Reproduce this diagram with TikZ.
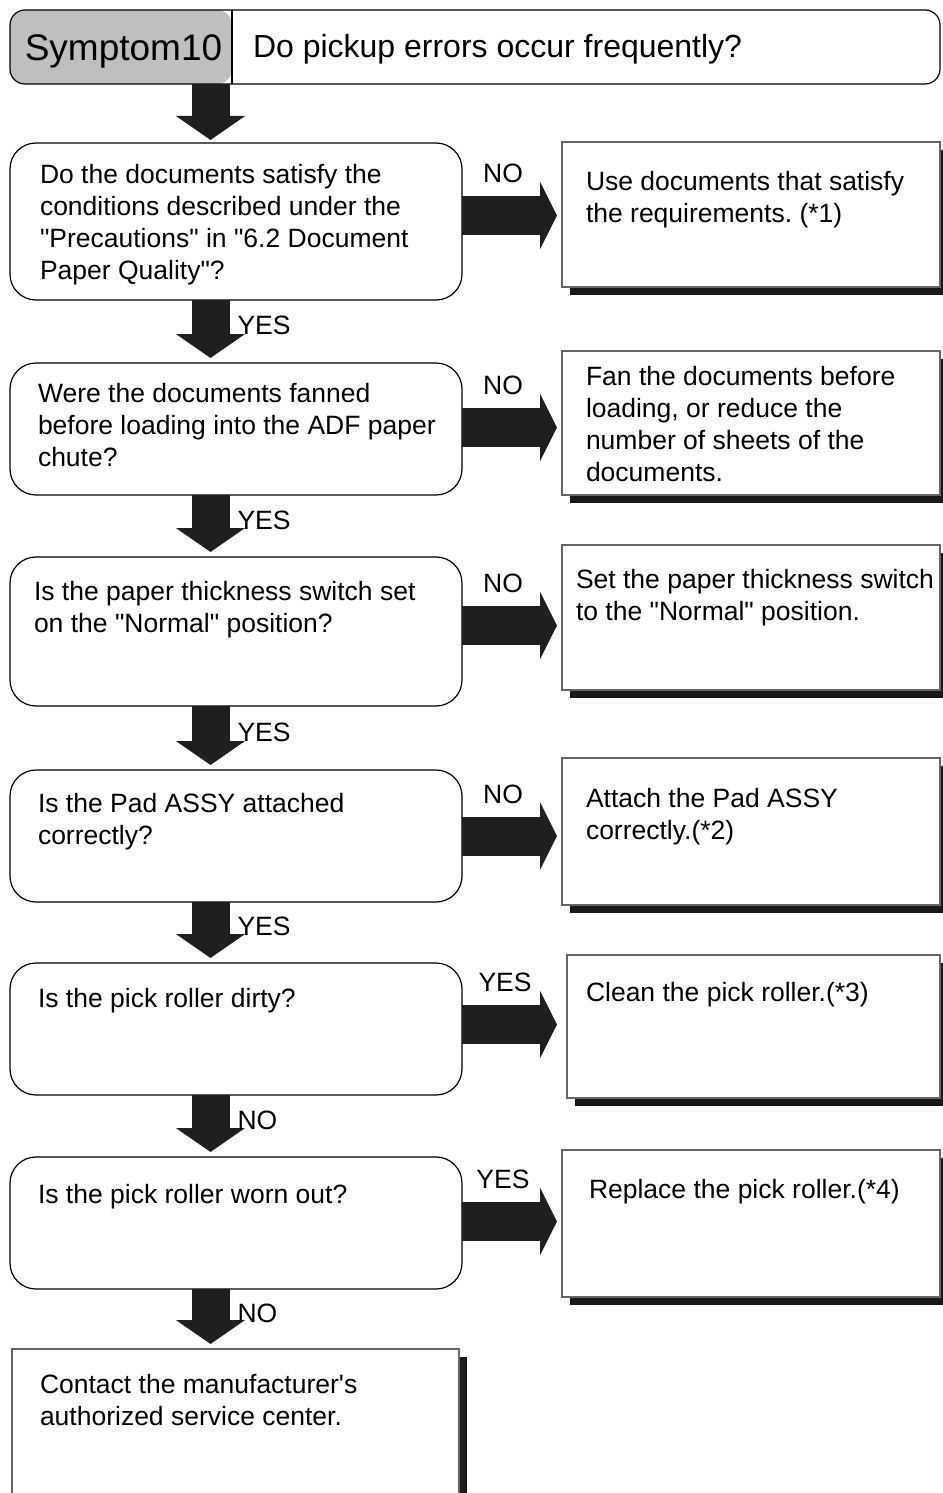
\documentclass[tikz,border=0pt]{standalone}
\usepackage{fontspec}
\setmainfont{Liberation Sans}
\usepackage{tikz}
\usetikzlibrary{positioning, arrows.meta, shadows, calc}

\newcommand\flowfont{\fontsize{26.5}{32}\selectfont}
\frenchspacing

\begin{document}
\begin{tikzpicture}[
    x=1pt, y=-1pt,
    every node/.style={inner sep=0pt, outer sep=0pt, font=\flowfont},
    ask/.style={draw, line width=1.2pt, rounded corners=26pt,
                minimum width=452pt, anchor=north west},
    fix/.style={draw=black!60, line width=1.1pt, fill=white, anchor=north west,
                drop shadow={shadow xshift=8pt, shadow yshift=-8pt,
                             fill=black!90, opacity=1}},
    txt/.style={anchor=north west, align=left},
    godown/.style={line width=38pt, draw=black!88, shorten >=5pt,
                   -{Triangle[length=24pt, width=68pt]}},
    goside/.style={line width=39pt, draw=black!88, shorten >=5pt,
                   -{Triangle[length=17pt, width=67pt]}},
    yes/.style={anchor=west, xshift=27pt, yshift=6pt},
    tag/.style={pos=0.41, yshift=42pt},
]
\useasboundingbox (0,0) rectangle (942,1493);
\coordinate (dx) at (210.5,0);

% header
\node[draw, line width=1.2pt, rounded corners=15pt, minimum width=930pt,
      minimum height=74pt, anchor=north west,
      path picture={\fill[gray!50] (path picture bounding box.north west)
        rectangle ([xshift=222pt]path picture bounding box.south west);}]
      (hdr) at (10,10) {};
\draw[line width=1.2pt] ([xshift=222pt]hdr.north west) -- ([xshift=222pt]hdr.south west);
\node[anchor=base, font=\fontsize{37}{40}\selectfont] (sym) at (123.5,61) {Symptom10};
\node[anchor=base west, font=\fontsize{32}{36}\selectfont] (what) at (253,57.5)
      {Do pickup errors occur frequently?};

% questions
\node[ask, minimum height=157pt] (q1) at (10,143) {};
\node[ask, minimum height=132pt] (q2) at (10,363) {};
\node[ask, minimum height=149pt] (q3) at (10,557) {};
\node[ask, minimum height=132pt] (q4) at (10,770) {};
\node[ask, minimum height=132pt] (q5) at (10,963) {};
\node[ask, minimum height=132pt] (q6) at (10,1157) {};

\node[txt] (q1t) at ([xshift=30pt, yshift=-21.5pt]q1.north west)
      {Do the documents satisfy the\\conditions described under the\\
       \textquotedbl Precautions\textquotedbl{} in \textquotedbl 6.2 Document\\
       Paper Quality\textquotedbl?};
\node[txt] (q2t) at ([xshift=28pt, yshift=-20.5pt]q2.north west)
      {Were the documents fanned\\before loading into the ADF paper\\chute?};
\node[txt] (q3t) at ([xshift=24pt, yshift=-24.5pt]q3.north west)
      {Is the paper thickness switch set\\on the \textquotedbl Normal\textquotedbl{} position?};
\node[txt] (q4t) at ([xshift=28pt, yshift=-23.5pt]q4.north west)
      {Is the Pad ASSY attached\\correctly?};
\node[txt] (q5t) at ([xshift=28pt, yshift=-25.5pt]q5.north west)
      {Is the pick roller dirty?};
\node[txt] (q6t) at ([xshift=28pt, yshift=-27.5pt]q6.north west)
      {Is the pick roller worn out?};

% remedies
\node[fix, minimum width=378pt, minimum height=145pt] (r1) at (562,142) {};
\node[fix, minimum width=378pt, minimum height=144pt] (r2) at (562,351) {};
\node[fix, minimum width=378pt, minimum height=145pt] (r3) at (562,545) {};
\node[fix, minimum width=378pt, minimum height=147pt] (r4) at (562,758) {};
\node[fix, minimum width=373pt, minimum height=143pt] (r5) at (567,955) {};
\node[fix, minimum width=378pt, minimum height=147pt] (r6) at (562,1150) {};
\node[fix, minimum width=447pt, minimum height=150pt] (fin) at (12,1349) {};

\node[txt] (r1t) at ([xshift=24pt, yshift=-29.5pt]r1.north west)
      {Use documents that satisfy\\the requirements. (*1)};
\node[txt] (r2t) at ([xshift=24pt, yshift=-15.5pt]r2.north west)
      {Fan the documents before\\loading, or reduce the\\number of sheets of the\\documents.};
\node[txt] (r3t) at ([xshift=14pt, yshift=-24.5pt]r3.north west)
      {Set the paper thickness switch\\to the \textquotedbl Normal\textquotedbl{} position.};
\node[txt] (r4t) at ([xshift=24pt, yshift=-30.5pt]r4.north west)
      {Attach the Pad ASSY\\correctly.(*2)};
\node[txt] (r5t) at ([xshift=19pt, yshift=-27.5pt]r5.north west)
      {Clean the pick roller.(*3)};
\node[txt] (r6t) at ([xshift=27pt, yshift=-29.5pt]r6.north west)
      {Replace the pick roller.(*4)};
\node[txt] (fint) at ([xshift=28pt, yshift=-25.5pt]fin.north west)
      {Contact the manufacturer\textquotesingle s\\authorized service center.};

% down arrows
\draw[godown, shorten >=3pt] (hdr.south -| dx) -- (q1.north -| dx);
\draw[godown] (q1.south -| dx) -- node[yes] {YES} (q2.north -| dx);
\draw[godown] (q2.south -| dx) -- node[yes] {YES} (q3.north -| dx);
\draw[godown] (q3.south -| dx) -- node[yes] {YES} (q4.north -| dx);
\draw[godown] (q4.south -| dx) -- node[yes] {YES} (q5.north -| dx);
\draw[godown] (q5.south -| dx) -- node[yes] {NO} (q6.north -| dx);
\draw[godown] (q6.south -| dx) -- node[yes] {NO} (fin.north -| dx);

% side arrows
\draw[goside] ([yshift=6pt]q1.east) -- node[tag] {NO} ([yshift=6pt]q1.east -| r1.west);
\draw[goside] ([yshift=1.5pt]q2.east) -- node[tag] {NO} ([yshift=1.5pt]q2.east -| r2.west);
\draw[goside] ([yshift=6pt]q3.east) -- node[tag] {NO} ([yshift=6pt]q3.east -| r3.west);
\draw[goside] (q4.east) -- node[tag] {NO} (q4.east -| r4.west);
\draw[goside, shorten >=10pt] ([yshift=4.5pt]q5.east) -- node[tag] {YES} ([yshift=4.5pt]q5.east -| r5.west);
\draw[goside] ([yshift=1.5pt]q6.east) -- node[tag] {YES} ([yshift=1.5pt]q6.east -| r6.west);
\end{tikzpicture}
\end{document}
